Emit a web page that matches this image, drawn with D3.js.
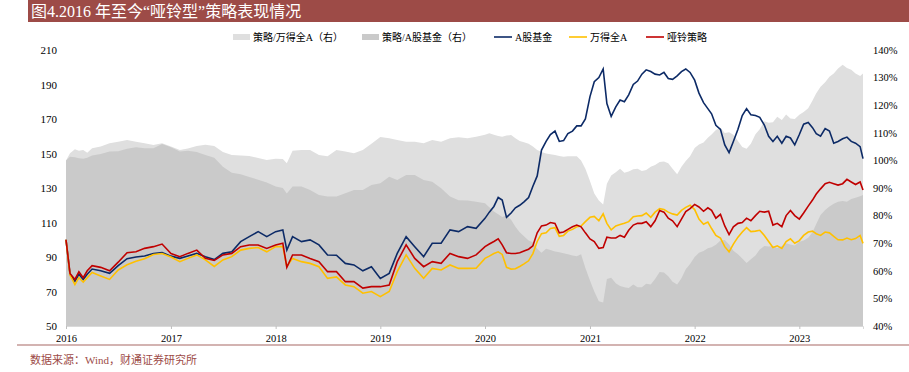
<!DOCTYPE html>
<html>
<head>
<meta charset="utf-8">
<script src="https://cdn.jsdelivr.net/npm/d3@7"></script>
<style>
 body { margin: 0; background: #fff; }
 text { font-family: "Liberation Serif", "Noto Sans CJK SC", serif; }
</style>
</head>
<body>
<script>

// dates of the readings (monthly early on, half-monthly from 2020)
var dates = [
 "2016-01-01","2016-01-15","2016-02-01","2016-02-15","2016-03-01","2016-03-15","2016-04-01","2016-05-01","2016-06-01","2016-07-01","2016-08-01","2016-09-01","2016-10-01","2016-11-01","2016-12-01",
 "2017-01-01","2017-02-01","2017-03-01","2017-04-01","2017-05-01","2017-06-01","2017-07-01","2017-08-01","2017-09-01","2017-10-01","2017-11-01","2017-12-01",
 "2018-01-01","2018-01-26","2018-02-09","2018-03-01","2018-04-01","2018-05-01","2018-06-01","2018-07-01","2018-08-01","2018-09-01","2018-10-01","2018-11-01","2018-12-01",
 "2019-01-01","2019-02-01","2019-03-01","2019-04-01","2019-05-01","2019-06-01","2019-07-01","2019-08-01","2019-09-01","2019-10-01","2019-11-01","2019-12-01",
 "2020-01-01","2020-01-16","2020-02-01","2020-02-16","2020-03-01","2020-03-16","2020-04-01","2020-04-16","2020-05-01","2020-05-16",
 "2020-06-01","2020-06-16","2020-07-01","2020-07-16","2020-08-01","2020-08-16","2020-09-01","2020-09-16","2020-10-01","2020-10-16",
 "2020-11-01","2020-11-16","2020-12-01","2020-12-16","2021-01-01","2021-01-16","2021-02-01","2021-02-16","2021-03-01","2021-03-16",
 "2021-04-01","2021-04-16","2021-05-01","2021-05-16","2021-06-01","2021-06-16","2021-07-01","2021-07-16","2021-08-01","2021-08-16",
 "2021-09-01","2021-09-16","2021-10-01","2021-10-16","2021-11-01","2021-11-16","2021-12-01","2021-12-16","2022-01-01","2022-01-16",
 "2022-02-01","2022-02-16","2022-03-01","2022-03-16","2022-04-01","2022-04-16","2022-05-01","2022-05-16","2022-06-01","2022-06-16",
 "2022-07-01","2022-07-16","2022-08-01","2022-08-16","2022-09-01","2022-09-16","2022-10-01","2022-10-16","2022-11-01","2022-11-16",
 "2022-12-01","2022-12-16","2023-01-01","2023-01-16","2023-02-01","2023-02-16","2023-03-01","2023-03-16","2023-04-01","2023-04-16",
 "2023-05-01","2023-05-16","2023-06-01","2023-06-16","2023-07-01","2023-07-16","2023-08-01","2023-08-11"
];

// A股基金 (left axis)
var fund = [
 100, 80, 76, 80, 77, 80, 83, 82, 80.5, 85, 89, 90, 90.6, 92, 92.5,
 90.5, 89.2, 90.6, 92.1, 90.1, 88.5, 92.1, 93, 98.9, 101.8, 104.7, 101.8,
 104.7, 105.7, 94, 101.8, 98.9, 99.9, 97, 91.2, 91, 86.3, 85.4, 82, 84.4,
 77.6, 80.5, 92.1, 101.8, 96, 90.2, 98, 98, 105.7, 104.7, 107.6, 106.6,
 112.4, 116, 119.3, 124.5, 123, 113, 115.5, 118.5, 120, 122,
 124.5, 131, 137, 152, 157, 161, 163, 157, 157.5, 161.5,
 163, 166, 166, 170, 183, 191.6, 194, 199, 179, 171.5,
 177, 181, 180, 184, 190, 192, 196, 198.5, 197.5, 196,
 195.5, 197, 193.5, 193, 195, 197.5, 199, 197, 192.5, 185,
 179.5, 176, 173, 166.3, 164, 155, 150.5, 157, 164, 172,
 176, 172.5, 172, 171, 166.5, 160, 157, 160, 156, 160,
 159, 155, 161, 167, 168, 165, 161.5, 160, 164.5, 163,
 156, 157, 158.5, 159.5, 157, 156, 154, 147
];

// 万得全A (left axis)
var windA = [
 100, 79.5, 74, 78, 75.5, 78, 81, 79, 77, 82.5, 85.5, 87.5, 89, 91.5, 92,
 90, 87.3, 89.2, 91.2, 88.3, 84.5, 88.3, 90.2, 94, 95, 95.5, 93,
 96, 96, 84.5, 89.2, 87.3, 86.3, 84.4, 77.6, 78.5, 73.8, 72.8, 69, 70,
 67, 70, 81.5, 91.2, 83.4, 77.6, 83.4, 82.5, 85.4, 83.4, 83.4, 83.5,
 89.2, 90.5, 92, 93, 91.5, 84, 83, 83.2, 84.5, 86,
 87.8, 92, 99, 103.5, 104, 106.5, 107, 102, 102.5, 105,
 106, 107.5, 108, 110.5, 113, 113.5, 111, 115, 109.5, 105.7,
 108, 108.8, 109.5, 110.5, 113.4, 113.8, 114, 115.5, 113, 116,
 118, 117.5, 116, 115, 114.3, 117, 118.8, 120, 117.5, 112,
 109, 110.3, 106.5, 102.5, 101, 96, 93, 97.5, 101.5, 104.5,
 107, 104.7, 105, 105.5, 102.5, 99, 95.5, 96.5, 95, 98.9,
 100.5, 98, 99.5, 102.5, 104.5, 105, 103.5, 102.5, 104.5, 104,
 102, 100, 99.9, 101, 100, 100.7, 102.5, 97.9
];

// 哑铃策略 (left axis)
var dumbbell = [
 100, 80.5, 77, 81.5, 78, 82, 85, 84, 82, 87, 92.5, 93, 95, 96, 97.5,
 92, 90.2, 92.1, 94, 89.2, 88, 91.2, 92.1, 96, 97, 97, 95,
 97, 98, 84, 91.2, 91.2, 89.2, 87.3, 81.5, 81.5, 75.7, 75.7, 72, 72.8,
 72.8, 73.8, 87.3, 97, 89.2, 84.4, 87.3, 86.3, 92.1, 90.2, 89.2, 91.2,
 96, 97.5, 99, 100.5, 97, 92.5, 92, 92, 92.5, 93.5,
 94.5, 96.5, 104, 108, 108.5, 110, 109.5, 104, 104.5, 106,
 107.5, 108.5, 107.5, 104, 100.5, 98.9, 95, 95.5, 101.5, 101,
 101, 102.5, 101.5, 105.5, 108.5, 109.5, 109.5, 110.5, 107.6, 111,
 117, 116, 112.5, 111, 107.6, 112, 116.3, 118, 120.5, 119,
 116.5, 118.5, 117, 112.5, 114.7, 108, 103, 107.5, 109.5, 110,
 112.5, 111, 114, 116.5, 116, 116.5, 108.5, 109.5, 107.6, 114,
 117, 114, 112, 115.5, 119.5, 123, 126.5, 129.5, 132.5, 133.3,
 132.5, 131.7, 132.5, 135, 133.5, 132, 133.5, 128.8
];

// 策略/万得全A, % (right axis)
var ratioWind = [
 100, 102.6, 104, 103.5, 103.8, 102.8, 104.4, 105, 106.2, 106.8, 107.4, 106.8, 106.2, 105.6, 106.2,
 105, 103.8, 104.3, 105.2, 105.7, 105.2, 103, 102, 101.8, 101.6, 100.9, 100.1,
 100.6, 100.5, 99, 103.5, 103.8, 103.8, 102, 101.5, 103.8, 103.2, 102.6, 103.8, 106,
 108.5, 108, 107.4, 106.8, 106.8, 106.2, 107.4, 106.8, 108, 108.4, 108, 108.6,
 109.3, 109.8, 109.3, 108.8, 108.6, 109, 109.2, 108, 107, 106.6,
 106, 105, 103.8, 103, 102.5, 102.2, 102, 101.6, 101.3, 101.5,
 101.5, 101.5, 100, 97, 92.5, 88, 85.5, 84, 91.5, 94.5,
 95.7, 97, 95.5, 96, 96.8, 97, 96.2, 96.5, 97.7, 98.3,
 99.4, 99.6, 99, 97, 95, 97.7, 99.8, 101.5, 104.5, 105.8,
 106.5, 108.2, 109.4, 111, 111.8, 109.9, 110.2, 109.3, 107, 104.9,
 104.2, 106, 109.5, 111.3, 114.2, 113.6, 113.8, 115.8, 114.6, 116.6,
 115.2, 115, 116.5, 117.5, 118.9, 121.7, 124.3, 126.7, 128.3, 130.3,
 131.5, 133.3, 134.7, 133.5, 132.8, 131.5, 130.6, 131.5
];

// 策略/A股基金, % (right axis)
var ratioFund = [
 100, 101.3, 101.1, 100.8, 100.6, 101, 101.8, 102.3, 103.2, 103.3, 104.2, 104.8, 104.4, 104.4, 105.9,
 104.8, 103.2, 103.5, 103, 102, 101, 97.7, 95.5, 95, 94, 93, 92,
 90.5, 90, 88, 90.5, 90.5, 89.3, 87.5, 86.9, 86.9, 88.1, 89.3, 89.3, 91.1,
 91.7, 94.1, 92.9, 94.7, 94.7, 92.9, 92.3, 89.9, 86.9, 85.6, 85.5, 85,
 84.5, 83, 81.5, 80.5, 79.5, 80, 78.5, 76, 74, 72.5,
 71, 70.3, 68, 66.5, 68, 67.5, 67, 66.7, 66.4, 66,
 65.5, 65.3, 66, 61, 56.5, 52.5, 49, 48.5, 57, 57.5,
 55.5, 54.5, 54, 53.8, 55, 54, 54, 55.3, 55, 57,
 59.6, 59.4, 58, 56, 55, 57.3, 60.6, 62.5, 65, 66.5,
 67.2, 68.2, 68.5, 69.4, 71, 71.2, 69.5, 67.3, 66, 64.5,
 62.8, 64.2, 65.5, 67.7, 69, 68.8, 69, 68.3, 69, 70,
 69.5, 69.2, 70.5, 71, 72, 74, 77, 80.2, 82, 83.3,
 84.3, 85, 85.3, 85, 86, 86.5, 87, 87.5
];

var leftTicks = [50, 70, 90, 110, 130, 150, 170, 190, 210];
var rightTicks = [40, 50, 60, 70, 80, 90, 100, 110, 120, 130, 140];

var title = "图4.2016 年至今“哑铃型”策略表现情况";
var source = "数据来源：Wind，财通证券研究所";

var w = 909, h = 372;
var parse = d3.timeParse("%Y-%m-%d");
var days = dates.map(parse);

var svg = d3.select("body").append("svg")
	.attr("width", w)
	.attr("height", h);

// title bar
svg.append("rect")
	.attr("x", 28).attr("y", 0)
	.attr("width", w - 28).attr("height", 22)
	.attr("fill", "#9d4b47");
svg.append("text")
	.attr("x", 31).attr("y", 17)
	.attr("fill", "#fff")
	.style("font-size", "16px")
	.text(title);

var x = d3.scaleTime()
	.domain([days[0], days[days.length - 1]])
	.range([66, 863]);
var yL = d3.scaleLinear().domain([50, 210]).range([326, 50]);
var yR = d3.scaleLinear().domain([40, 140]).range([326, 50]);

// shaded ratio areas (right axis)
var areaW = d3.area()
	.x(function(d, i) { return x(days[i]); })
	.y0(yR(40))
	.y1(function(d) { return yR(d); });

svg.append("path").datum(ratioWind)
	.attr("d", areaW)
	.attr("fill", "#dfdfdf");
svg.append("path").datum(ratioFund)
	.attr("d", areaW)
	.attr("fill", "#cacaca");

// lines (left axis)
var line = d3.line()
	.x(function(d, i) { return x(days[i]); })
	.y(function(d) { return yL(d); });

var series = [
	{ name: "A股基金", values: fund, color: "#0c2a66" },
	{ name: "万得全A", values: windA, color: "#ffc000" },
	{ name: "哑铃策略", values: dumbbell, color: "#c00000" }
];

svg.selectAll(".ln")
	.data(series)
	.enter()
	.append("path")
	.attr("class", "ln")
	.attr("d", function(d) { return line(d.values); })
	.attr("fill", "none")
	.attr("stroke", function(d) { return d.color; })
	.attr("stroke-width", 1.6);

// axes
var xAxis = svg.append("g")
	.attr("transform", "translate(0,326)")
	.call(d3.axisBottom(x).ticks(d3.timeYear).tickFormat(d3.timeFormat("%Y")).tickSize(3).tickPadding(6));
xAxis.select(".domain").attr("stroke", "#d9d9d9");
xAxis.selectAll(".tick line").attr("stroke", "#bfbfbf");
xAxis.selectAll("text").style("font-size", "10.5px").attr("fill", "#000");

var lAxis = svg.append("g")
	.attr("transform", "translate(66,0)")
	.call(d3.axisLeft(yL).tickValues(leftTicks).tickSize(0).tickPadding(9));
lAxis.select(".domain").remove();
lAxis.selectAll("text").style("font-size", "11px").attr("fill", "#000");

var rAxis = svg.append("g")
	.attr("transform", "translate(863,0)")
	.call(d3.axisRight(yR).tickValues(rightTicks).tickSize(0).tickPadding(10)
		.tickFormat(function(d) { return d + "%"; }));
rAxis.select(".domain").remove();
rAxis.selectAll("text").style("font-size", "10.5px").attr("fill", "#000");

// legend
var legend = svg.append("g").style("font-size", "10px");
legend.append("rect").attr("x", 233).attr("y", 34).attr("width", 17).attr("height", 6).attr("fill", "#dfdfdf");
legend.append("text").attr("x", 253).attr("y", 41).text("策略/万得全A（右）");
legend.append("rect").attr("x", 362).attr("y", 34).attr("width", 17).attr("height", 6).attr("fill", "#cacaca");
legend.append("text").attr("x", 382).attr("y", 41).text("策略/A股基金（右）");

var lx = [494, 569, 646];
series.forEach(function(s, i) {
	legend.append("line")
		.attr("x1", lx[i]).attr("x2", lx[i] + 18)
		.attr("y1", 37).attr("y2", 37)
		.attr("stroke", s.color).attr("stroke-width", 1.6);
	legend.append("text").attr("x", lx[i] + 21).attr("y", 41).text(s.name);
});

// footer
svg.append("line")
	.attr("x1", 17).attr("x2", w)
	.attr("y1", 345).attr("y2", 345)
	.attr("stroke", "#c49a97").attr("stroke-width", 1.5);
svg.append("text")
	.attr("x", 30).attr("y", 364)
	.attr("fill", "#9d4b47")
	.style("font-size", "11px")
	.text(source);

</script>
</body>
</html>
